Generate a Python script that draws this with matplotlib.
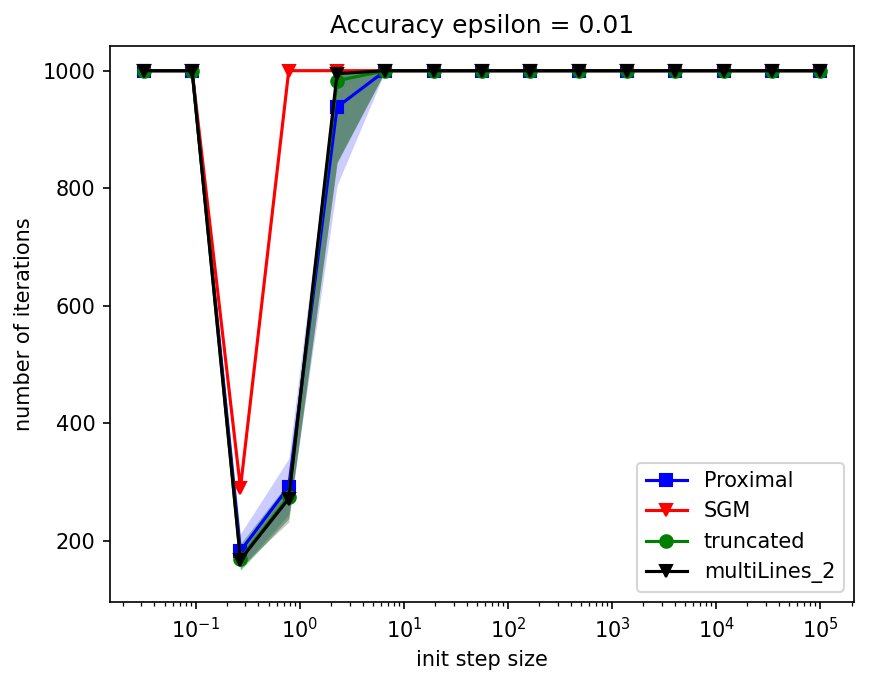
import numpy as np
import matplotlib
matplotlib.use("Agg")
import matplotlib.pyplot as plt

# step sizes: 15 log-spaced values from 10^-1.5 to 10^5
step_sizes = np.logspace(-1.5, 5, 15)

proximal = [1000, 1000, 183, 292, 938, 1000, 1000, 1000, 1000, 1000, 1000, 1000, 1000, 1000, 1000]
proximal_lo = [1000, 1000, 152, 245, 805, 1000, 1000, 1000, 1000, 1000, 1000, 1000, 1000, 1000, 1000]
proximal_hi = [1000, 1000, 212, 340, 1000, 1000, 1000, 1000, 1000, 1000, 1000, 1000, 1000, 1000, 1000]

sgm = [1000, 1000, 290, 1000, 1000, 1000, 1000, 1000, 1000, 1000, 1000, 1000, 1000, 1000, 1000]
sgm_lo = [1000, 1000, 290, 1000, 1000, 1000, 1000, 1000, 1000, 1000, 1000, 1000, 1000, 1000, 1000]
sgm_hi = [1000, 1000, 290, 1000, 1000, 1000, 1000, 1000, 1000, 1000, 1000, 1000, 1000, 1000, 1000]

truncated = [1000, 1000, 170, 275, 983, 1000, 1000, 1000, 1000, 1000, 1000, 1000, 1000, 1000, 1000]
truncated_lo = [1000, 1000, 150, 238, 843, 1000, 1000, 1000, 1000, 1000, 1000, 1000, 1000, 1000, 1000]
truncated_hi = [1000, 1000, 195, 300, 1000, 1000, 1000, 1000, 1000, 1000, 1000, 1000, 1000, 1000, 1000]

multilines = [1000, 1000, 168, 272, 995, 1000, 1000, 1000, 1000, 1000, 1000, 1000, 1000, 1000, 1000]
multilines_lo = [1000, 1000, 155, 232, 845, 1000, 1000, 1000, 1000, 1000, 1000, 1000, 1000, 1000, 1000]
multilines_hi = [1000, 1000, 185, 290, 1000, 1000, 1000, 1000, 1000, 1000, 1000, 1000, 1000, 1000, 1000]

fig = plt.figure(figsize=(878 / 150, 682 / 150), dpi=150)
ax = fig.add_axes([110 / 878, 80 / 682, 744 / 878, 556 / 682])

ax.fill_between(step_sizes, proximal_lo, proximal_hi, color="blue", alpha=0.2, linewidth=0)
ax.fill_between(step_sizes, sgm_lo, sgm_hi, color="red", alpha=0.2, linewidth=0)
ax.fill_between(step_sizes, truncated_lo, truncated_hi, color="green", alpha=0.4, linewidth=0)
ax.fill_between(step_sizes, multilines_lo, multilines_hi, color="black", alpha=0.2, linewidth=0)

ax.plot(step_sizes, proximal, color="blue", marker="s", label="Proximal")
ax.plot(step_sizes, sgm, color="red", marker="v", label="SGM")
ax.plot(step_sizes, truncated, color="green", marker="o", label="truncated")
ax.plot(step_sizes, multilines, color="black", marker="v", label="multiLines_2")

ax.set_xscale("log")
ax.set_ylim(96, 1042)
ax.set_yticks([200, 400, 600, 800, 1000])
ax.set_xlabel("init step size")
ax.set_ylabel("number of iterations")
ax.set_title("Accuracy epsilon = 0.01")
ax.legend(loc="lower right")

fig.savefig("out.png", dpi=150)
